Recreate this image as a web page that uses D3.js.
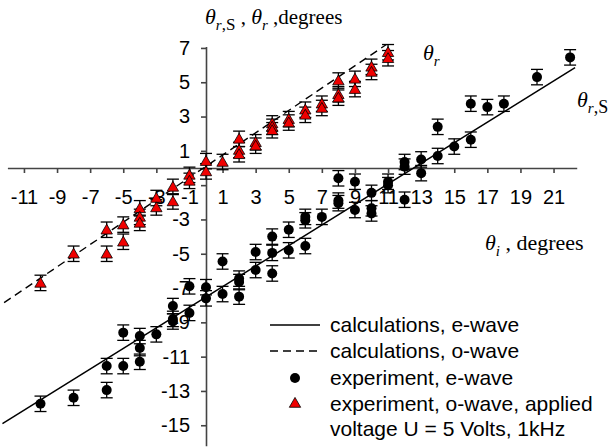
<!DOCTYPE html>
<html>
<head>
<meta charset="utf-8">
<script src="https://cdn.jsdelivr.net/npm/d3@7"></script>
<style>
  html, body { margin: 0; padding: 0; background: #fff; }
  svg { display: block; }
  .axis text { font-family: "Liberation Sans", Arial, sans-serif; font-size: 20px; fill: #000; }
  .axis path, .axis line { stroke: #444; stroke-width: 1.6; }
  .serif { font-family: "Liberation Serif", "Times New Roman", serif; fill: #000; }
  .legend text { font-family: "Liberation Sans", Arial, sans-serif; font-size: 21px; fill: #000; }
</style>
</head>
<body>
<div id="chart"></div>
<script>
// experiment, e-wave (incidence angle, reflected angle)
const eAngles = [-10, -8, -6, -6, -5, -5, -4, -4, -4, -3, -2, -2, -2, -1, -1, 0, 0, 1, 1, 2, 2, 2, 3, 3,
  4, 4, 4, 5, 5, 6, 6, 6, 7, 8, 8, 8, 9, 9, 10, 10, 10, 11, 11, 12, 12, 12, 13, 13, 14, 14, 15, 16, 16, 17, 18, 20, 22];
const eValues = [-13.75, -13.4, -11.55, -12.95, -9.6, -11.55, -9.8, -10.5, -11.3, -9.7, -8.05, -8.8, -8.95,
  -6.9, -8.45, -6.95, -7.6, -5.45, -7.35, -6.45, -6.65, -7.5, -4.9, -5.95, -4.0, -4.95, -6.15, -3.6, -4.8,
  -2.85, -3.05, -4.55, -2.85, -0.6, -1.9, -2.05, -0.8, -2.45, -1.45, -2.35, -2.65, -0.8, -1.0, 0.35, 0.08,
  -1.85, 0.5, -0.3, 2.4, 0.7, 1.25, 3.75, 1.65, 3.55, 3.75, 5.3, 6.45];

// experiment, o-wave
const oAngles = [-10, -8, -6, -6, -5, -5, -4, -4, -4, -3, -3, -2, -2, -1, -1, 0, 0, 1, 2, 2, 2, 3, 3,
  4, 4, 4, 5, 5, 6, 6, 7, 7, 8, 8, 8, 9, 9, 10, 10, 11, 11];
const oValues = [-6.7, -5.0, -3.6, -5.0, -3.3, -4.3, -2.35, -2.85, -3.2, -1.75, -2.3, -1.1, -1.95, -0.4, -0.75,
  0.4, -0.2, 0.35, 1.7, 1.05, 0.8, 1.5, 1.3, 2.6, 2.4, 2.2, 2.85, 2.65, 3.4, 3.1, 3.75, 3.5, 5.1, 4.3, 4.1,
  5.2, 4.6, 5.9, 5.6, 6.75, 6.4];

const errorHalf = 0.45;

// calculations (straight lines, end points)
const eCalcAngles = [-12.3, 22.3];
const eCalcValues = [-14.9, 5.85];
const oCalcAngles = [-12.2, 10.9];
const oCalcValues = [-7.85, 7.2];

const xTicks = [-11, -9, -7, -5, -3, -1, 1, 3, 5, 7, 9, 11, 13, 15, 17, 19, 21];
const yTicks = [7, 5, 3, 1, -1, -3, -5, -7, -9, -11, -13, -15];
const yHiddenLabels = [-1];

const legendLabels = [
  ["calculations, e-wave"],
  ["calculations, o-wave"],
  ["experiment, e-wave"],
  ["experiment, o-wave, applied", "voltage U = 5 Volts, 1kHz"]
];

const width = 613;
const height = 447;
const originX = 206;
const originY = 168;
const pxPerX = 16.55;
const pxPerY = 17.15;

const svg = d3.select("#chart").append("svg")
  .attr("width", width)
  .attr("height", height);

svg.append("rect").attr("width", width).attr("height", height).attr("fill", "#fff");

const x = d3.scaleLinear()
  .domain([-12, 22.4])
  .range([originX - 12 * pxPerX, originX + 22.4 * pxPerX]);
const y = d3.scaleLinear()
  .domain([7.08, -16.2])
  .range([originY - 7.08 * pxPerY, originY + 16.2 * pxPerY]);

// axes (plain hyphen for negatives, as in the original)
svg.append("g")
  .attr("class", "axis")
  .attr("transform", `translate(0,${y(0)})`)
  .call(d3.axisBottom(x).tickValues(xTicks).tickSize(5).tickSizeOuter(0).tickPadding(17)
    .tickFormat((d) => String(d)));

svg.append("g")
  .attr("class", "axis")
  .attr("transform", `translate(${x(0)},0)`)
  .call(d3.axisLeft(y).tickValues(yTicks).tickSize(5).tickSizeOuter(0).tickPadding(11)
    .tickFormat((d) => yHiddenLabels.includes(d) ? "" : String(d)));

svg.selectAll(".axis .tick text").attr("fill", "#000");

// calculation lines
const line = d3.line().x((d) => x(d[0])).y((d) => y(d[1]));

svg.append("path")
  .datum(d3.zip(eCalcAngles, eCalcValues))
  .attr("d", line)
  .attr("fill", "none")
  .attr("stroke", "#000")
  .attr("stroke-width", 1.5);

svg.append("path")
  .datum(d3.zip(oCalcAngles, oCalcValues))
  .attr("d", line)
  .attr("fill", "none")
  .attr("stroke", "#000")
  .attr("stroke-width", 1.4)
  .attr("stroke-dasharray", "8,5");

// error bars
function errorBars(g, points) {
  const cap = 6;
  const bars = g.selectAll("g").data(points).join("g");
  bars.append("line")
    .attr("x1", (d) => x(d[0])).attr("x2", (d) => x(d[0]))
    .attr("y1", (d) => y(d[1] + errorHalf)).attr("y2", (d) => y(d[1] - errorHalf));
  bars.append("line")
    .attr("x1", (d) => x(d[0]) - cap).attr("x2", (d) => x(d[0]) + cap)
    .attr("y1", (d) => y(d[1] + errorHalf)).attr("y2", (d) => y(d[1] + errorHalf));
  bars.append("line")
    .attr("x1", (d) => x(d[0]) - cap).attr("x2", (d) => x(d[0]) + cap)
    .attr("y1", (d) => y(d[1] - errorHalf)).attr("y2", (d) => y(d[1] - errorHalf));
}

const ePoints = d3.zip(eAngles, eValues);
const oPoints = d3.zip(oAngles, oValues);

const circleSymbol = d3.symbol().type(d3.symbolCircle).size(Math.PI * 5 * 5);
const triangleSymbol = d3.symbol().type(d3.symbolTriangle).size(56);

const eLayer = svg.append("g");
errorBars(eLayer.append("g").attr("stroke", "#000").attr("stroke-width", 1.3), ePoints);
eLayer.append("g").selectAll("path").data(ePoints).join("path")
  .attr("d", circleSymbol)
  .attr("transform", (d) => `translate(${x(d[0])},${y(d[1])})`)
  .attr("fill", "#000");

const oLayer = svg.append("g");
errorBars(oLayer.append("g").attr("stroke", "#000").attr("stroke-width", 1.3), oPoints);
oLayer.append("g").selectAll("path").data(oPoints).join("path")
  .attr("d", triangleSymbol)
  .attr("transform", (d) => `translate(${x(d[0])},${y(d[1]) + 1})`)
  .attr("fill", "#f00000")
  .attr("stroke", "#000")
  .attr("stroke-width", 0.8);

// angle labels
function thetaLabel(px, py, sub) {
  const t = svg.append("text").attr("class", "serif").attr("x", px).attr("y", py);
  t.append("tspan").attr("font-style", "italic").attr("font-size", 22).text("\u03B8");
  t.append("tspan").attr("font-style", "italic").attr("font-size", 15).attr("dy", 6).text(sub);
  return t;
}

const titleLabel = thetaLabel(205, 24, "r");
titleLabel.append("tspan").attr("font-size", 17).text(",S");
titleLabel.append("tspan").attr("font-size", 21).attr("dy", -6).text(" , ");
titleLabel.append("tspan").attr("font-style", "italic").attr("font-size", 22).text("\u03B8");
titleLabel.append("tspan").attr("font-style", "italic").attr("font-size", 15).attr("dy", 6).text("r");
titleLabel.append("tspan").attr("font-size", 21).attr("dy", -6).text(" ,degrees");

thetaLabel(423, 60, "r");

const rsLabel = thetaLabel(577, 107, "r");
rsLabel.append("tspan").attr("font-size", 18).text(",S");

const tiLabel = thetaLabel(485, 250, "i");
tiLabel.append("tspan").attr("font-size", 22).attr("dy", -6).text(" , degrees");

// legend
const legend = svg.append("g").attr("class", "legend");
const rowY = [325, 351, 378, 404];
const sampleX = [270, 320];

legend.append("line")
  .attr("x1", sampleX[0]).attr("x2", sampleX[1]).attr("y1", rowY[0]).attr("y2", rowY[0])
  .attr("stroke", "#000").attr("stroke-width", 1.5);
legend.append("line")
  .attr("x1", sampleX[0]).attr("x2", sampleX[1]).attr("y1", rowY[1]).attr("y2", rowY[1])
  .attr("stroke", "#000").attr("stroke-width", 1.4).attr("stroke-dasharray", "8,5");
legend.append("path")
  .attr("d", circleSymbol)
  .attr("transform", `translate(${(sampleX[0] + sampleX[1]) / 2},${rowY[2]})`)
  .attr("fill", "#000");
legend.append("path")
  .attr("d", triangleSymbol)
  .attr("transform", `translate(${(sampleX[0] + sampleX[1]) / 2},${rowY[3]})`)
  .attr("fill", "#f00000").attr("stroke", "#000").attr("stroke-width", 0.8);

legendLabels.forEach((lines, i) => {
  lines.forEach((txt, j) => {
    legend.append("text")
      .attr("x", 330)
      .attr("y", rowY[i] + j * 25)
      .attr("dy", "0.35em")
      .text(txt);
  });
});
</script>
</body>
</html>
